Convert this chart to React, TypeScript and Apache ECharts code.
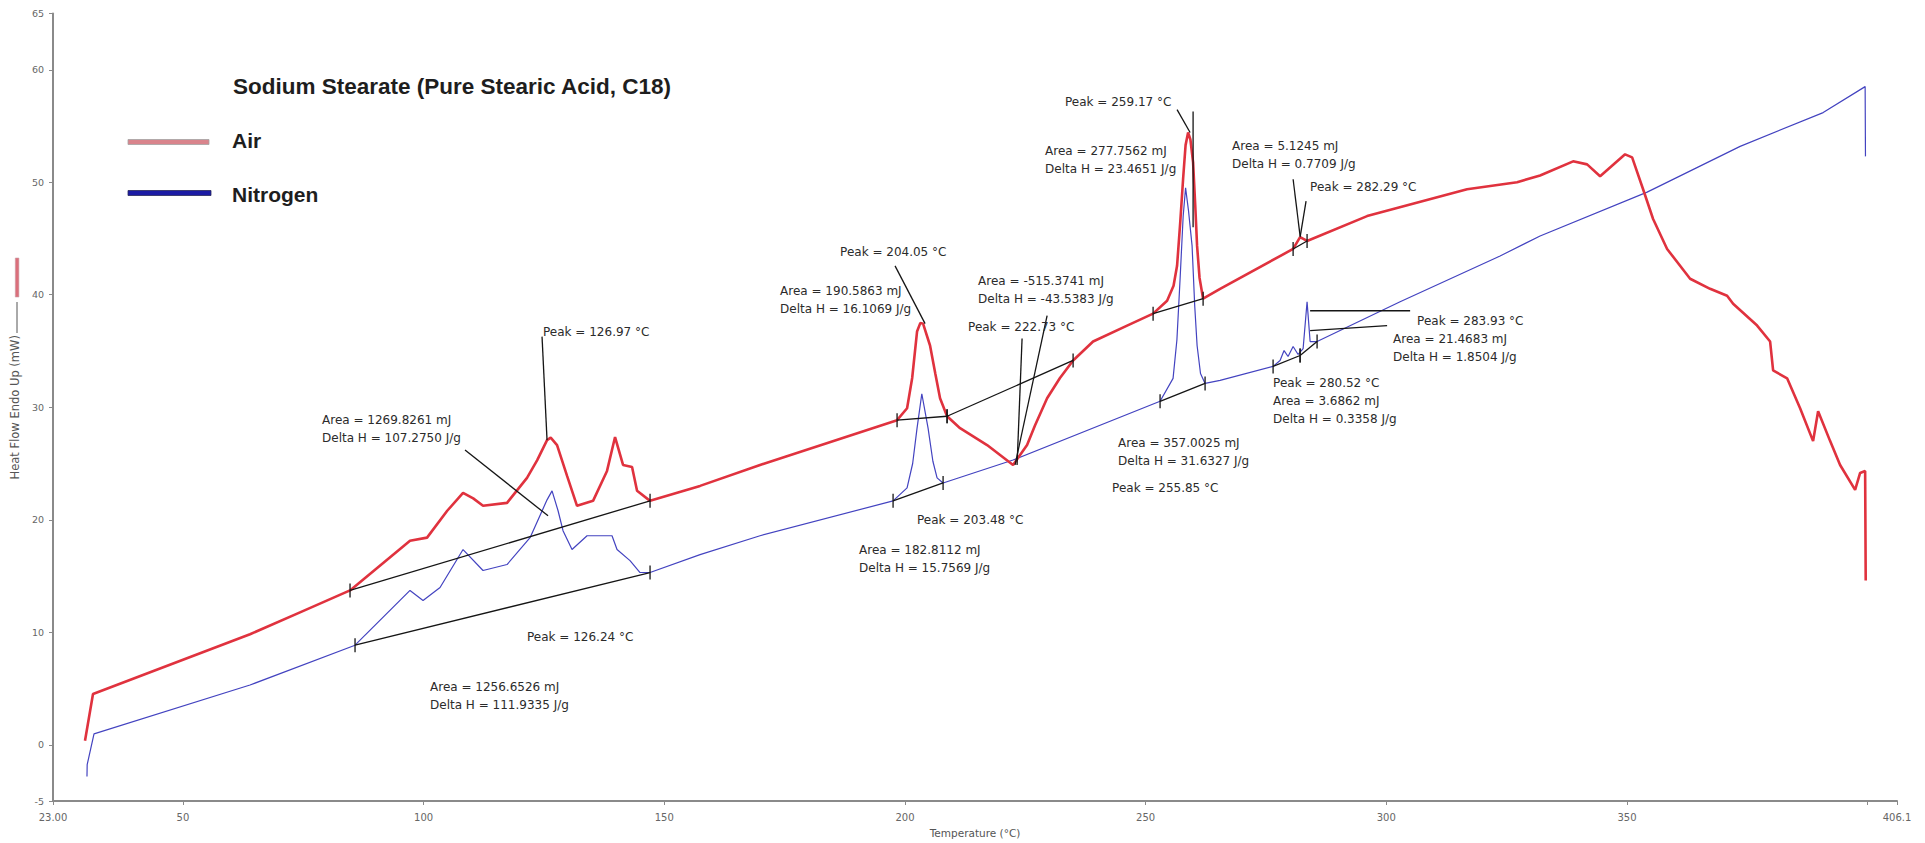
import React, { useEffect, useRef } from "react";
import * as echarts from "echarts";

type Pt = [number, number];

// Heat flow (mW) against temperature (°C) — sample heated in air
const airTrace: Pt[] = [
  [29.65, 0.35], [31.31, 4.51], [63.93, 9.82], [74.32, 11.77], [84.71, 13.72],
  [97.17, 18.14], [100.71, 18.41], [104.9, 20.8], [108.19, 22.39], [110.3, 21.9], [112.34, 21.24],
  [117.33, 21.5], [121.48, 23.72], [123.6, 25.3], [125.64, 27.08], [126.4, 27.3], [127.72, 26.64],
  [129.8, 23.9], [131.87, 21.24], [135.2, 21.68], [138.1, 24.34], [139.77, 27.35], [141.43, 24.87],
  [143.3, 24.69], [144.34, 22.57], [147.04, 21.68], [157.43, 23.01], [169.89, 24.87], [198.36, 28.85],
  [200.44, 29.91], [201.5, 32.6], [202.51, 36.73], [203.2, 37.5], [203.76, 37.43], [205.21, 35.49],
  [206.3, 33.0], [207.29, 30.8], [208.75, 29.2], [211.45, 28.14], [217.06, 26.64], [222.46, 24.87],
  [225.37, 26.64], [227.03, 28.4], [229.53, 30.8], [232.2, 32.6], [234.93, 34.16], [239.08, 35.84],
  [246.15, 37.26], [251.55, 38.32], [254.46, 39.47], [255.8, 40.8], [256.53, 42.57], [257.2, 46.5],
  [257.78, 50.27], [258.3, 53.3], [258.82, 54.42], [259.3, 53.8], [259.86, 51.77], [260.3, 48.0],
  [260.69, 44.34], [261.2, 41.5], [261.94, 39.65], [265.47, 40.53], [280.64, 44.07], [282.09, 45.13],
  [283.54, 44.78], [296.01, 46.99], [316.78, 49.38], [327.17, 50.0], [331.95, 50.6], [338.81, 51.86],
  [341.72, 51.59], [344.42, 50.53], [349.61, 52.48], [351.07, 52.21], [353.35, 49.38], [355.43, 46.73],
  [358.34, 44.07], [363.12, 41.42], [367.27, 40.53], [370.8, 39.91], [372.05, 39.2], [377.04, 37.26],
  [379.74, 35.84], [380.36, 33.27], [383.27, 32.57], [385.97, 29.91], [388.67, 26.99], [389.71, 29.65],
  [392.21, 26.99], [394.28, 24.87], [397.4, 22.65], [398.44, 24.16], [399.48, 24.34], [399.6, 14.6],
];

// Heat flow (mW) against temperature (°C) — sample heated in nitrogen
const nitrogenTrace: Pt[] = [
  [30.06, -2.83], [30.1, -1.77], [31.52, 0.97], [63.93, 5.31], [85.75, 8.85], [97.17, 13.72],
  [99.88, 12.83], [103.41, 13.98], [108.19, 17.35], [112.34, 15.49], [117.33, 16.02], [122.11, 18.41],
  [125.64, 21.77], [126.68, 22.57], [127.93, 20.8], [128.96, 19.03], [130.83, 17.35], [133.95, 18.58],
  [139.14, 18.58], [140.18, 17.35], [142.88, 16.37], [144.96, 15.31], [147.04, 15.31], [157.43, 16.9],
  [169.89, 18.58], [197.53, 21.68], [200.44, 22.83], [201.6, 25.0], [202.51, 28.14], [203.5, 31.2],
  [204.8, 28.14], [205.8, 25.2], [206.67, 23.72], [207.92, 23.27], [222.46, 25.31], [253.0, 30.53],
  [255.7, 32.57], [256.5, 36.0], [257.16, 41.42], [257.8, 47.0], [258.3, 49.5], [258.9, 47.5],
  [259.65, 44.34], [260.2, 39.0], [260.69, 35.49], [261.4, 33.0], [262.35, 32.12], [265.47, 32.39],
  [276.48, 33.63], [277.93, 34.16], [278.76, 35.04], [279.59, 34.51], [280.64, 35.4], [281.68, 34.69],
  [282.72, 35.22], [283.54, 39.38], [284.17, 35.84], [285.62, 35.84], [302.87, 39.38], [323.64, 43.45],
  [331.95, 45.22], [354.19, 49.12], [373.51, 53.19], [390.76, 56.19], [399.48, 58.5], [399.55, 52.3],
];

// Integration baselines [t1, y1, t2, y2], drawn with end markers
const peakBaselines: [number, number, number, number][] = [
  [84.71, 13.72, 147.04, 21.68],
  [85.75, 8.85, 147.04, 15.31],
  [198.36, 28.85, 208.75, 29.2],
  [208.75, 29.2, 234.93, 34.16],
  [251.55, 38.32, 261.94, 39.65],
  [280.64, 44.07, 283.54, 44.78],
  [197.53, 21.68, 207.92, 23.27],
  [253.0, 30.53, 262.35, 32.12],
  [276.48, 33.63, 282.09, 34.6],
  [282.09, 34.6, 285.62, 35.84],
];

// Leader lines from result labels to their peaks [t1, y1, t2, y2]
const leaderLines: [number, number, number, number][] = [
  [124.6, 36.28, 125.64, 27.08],
  [108.6, 26.19, 125.85, 20.35],
  [197.94, 42.57, 204.18, 37.43],
  [229.53, 38.14, 222.87, 24.87],
  [224.33, 36.11, 223.29, 24.87],
  [256.53, 56.46, 259.24, 54.42],
  [259.86, 56.28, 259.86, 46.0],
  [280.64, 50.27, 282.09, 45.22],
  [283.33, 48.32, 282.09, 45.13],
  [284.17, 38.58, 304.95, 38.58],
  [284.17, 36.81, 300.17, 37.26],
];

// Peak result labels, anchored at the first line's left edge
const peakNotes: { t: number; y: number; lines: string[] }[] = [
  { t: 124.81, y: 36.73, lines: ["Peak = 126.97 °C"] },
  { t: 78.89, y: 28.85, lines: ["Area = 1269.8261 mJ", "Delta H = 107.2750 J/g"] },
  { t: 121.48, y: 9.56, lines: ["Peak = 126.24 °C"] },
  { t: 101.33, y: 5.13, lines: ["Area = 1256.6526 mJ", "Delta H = 111.9335 J/g"] },
  { t: 186.52, y: 43.81, lines: ["Peak = 204.05 °C"] },
  { t: 174.05, y: 40.35, lines: ["Area = 190.5863 mJ", "Delta H = 16.1069 J/g"] },
  { t: 215.19, y: 41.24, lines: ["Area = -515.3741 mJ", "Delta H = -43.5383 J/g"] },
  { t: 213.11, y: 37.17, lines: ["Peak = 222.73 °C"] },
  { t: 233.26, y: 57.17, lines: ["Peak = 259.17 °C"] },
  { t: 229.11, y: 52.74, lines: ["Area = 277.7562 mJ", "Delta H = 23.4651 J/g"] },
  { t: 202.51, y: 20.0, lines: ["Peak = 203.48 °C"] },
  { t: 190.46, y: 17.35, lines: ["Area = 182.8112 mJ", "Delta H = 15.7569 J/g"] },
  { t: 244.27, y: 26.81, lines: ["Area = 357.0025 mJ", "Delta H = 31.6327 J/g"] },
  { t: 243.03, y: 22.83, lines: ["Peak = 255.85 °C"] },
  { t: 267.96, y: 53.19, lines: ["Area = 5.1245 mJ", "Delta H = 0.7709 J/g"] },
  { t: 284.17, y: 49.56, lines: ["Peak = 282.29 °C"] },
  { t: 306.4, y: 37.7, lines: ["Peak = 283.93 °C"] },
  { t: 301.41, y: 36.11, lines: ["Area = 21.4683 mJ", "Delta H = 1.8504 J/g"] },
  { t: 276.48, y: 32.12, lines: ["Peak = 280.52 °C", "Area = 3.6862 mJ", "Delta H = 0.3358 J/g"] },
];

const xTickValues = [23, 50, 100, 150, 200, 250, 300, 350, 400, 406.1];
const xLabelValues = [23, 50, 100, 150, 200, 250, 300, 350, 406.1];
const yTickValues = [-5, 0, 10, 20, 30, 40, 50, 60, 65];

const X_MIN = 23;
const X_MAX = 406.1;
const Y_MIN = -5;
const Y_MAX = 65;

const SMALL_FONT = '"DejaVu Sans", sans-serif';
const BOLD_FONT = '"Liberation Sans", Arial, sans-serif';
const INK = "#151515";

export default function App() {
  const ref = useRef<HTMLDivElement>(null);

  useEffect(() => {
    document.body.style.margin = "0";
    document.body.style.overflow = "hidden";
    if (!ref.current) return;
    const chart = echarts.init(ref.current, undefined, { renderer: "svg" });

    const segmentItem = (withMarkers: boolean) => (params: any, api: any) => {
      const p1 = api.coord([api.value(0), api.value(1)]);
      const p2 = api.coord([api.value(2), api.value(3)]);
      const style = { stroke: INK, lineWidth: 1.3 };
      const children: any[] = [
        { type: "line", shape: { x1: p1[0], y1: p1[1], x2: p2[0], y2: p2[1] }, style },
      ];
      if (withMarkers) {
        children.push(
          { type: "line", shape: { x1: p1[0], y1: p1[1] - 7, x2: p1[0], y2: p1[1] + 7 }, style },
          { type: "line", shape: { x1: p2[0], y1: p2[1] - 7, x2: p2[0], y2: p2[1] + 7 }, style }
        );
      }
      return { type: "group", children };
    };

    chart.setOption({
      animation: false,
      backgroundColor: "#ffffff",
      title: {
        text: "Sodium Stearate (Pure Stearic Acid, C18)",
        left: 233,
        top: 75,
        padding: 0,
        textStyle: { fontFamily: BOLD_FONT, fontSize: 22.5, fontWeight: "bold", color: "#1e1e1e" },
      },
      grid: { left: 53, right: 28, top: 13.5, bottom: 40, containLabel: false },
      xAxis: {
        type: "value",
        min: X_MIN,
        max: X_MAX,
        name: "Temperature (°C)",
        nameLocation: "middle",
        nameGap: 26,
        nameTextStyle: { fontFamily: SMALL_FONT, fontSize: 10.5, color: "#555" },
        axisLine: { show: true, onZero: false, lineStyle: { color: "#8a8a8a", width: 2 } },
        axisTick: { show: true, length: 4, customValues: xTickValues, lineStyle: { color: "#8a8a8a" } },
        axisLabel: {
          customValues: xLabelValues,
          margin: 11,
          fontFamily: SMALL_FONT,
          fontSize: 10,
          color: "#666",
          formatter: (v: number) => (v === X_MIN ? "23.00" : v === X_MAX ? "406.1" : String(v)),
        },
        splitLine: { show: false },
      },
      yAxis: {
        type: "value",
        min: Y_MIN,
        max: Y_MAX,
        name: "Heat Flow Endo Up (mW)",
        nameLocation: "middle",
        nameRotate: 90,
        nameGap: 30,
        nameTextStyle: { fontFamily: SMALL_FONT, fontSize: 11.5, color: "#555" },
        axisLine: { show: true, onZero: false, lineStyle: { color: "#8a8a8a", width: 2 } },
        axisTick: { show: true, length: 4, customValues: yTickValues, lineStyle: { color: "#8a8a8a" } },
        axisLabel: {
          customValues: yTickValues,
          margin: 9,
          fontFamily: SMALL_FONT,
          fontSize: 9.5,
          color: "#666",
        },
        splitLine: { show: false },
      },
      graphic: [
        // Trace key beside the y-axis title
        { type: "line", shape: { x1: 17, y1: 302, x2: 17, y2: 333 }, style: { stroke: "#555", lineWidth: 1 } },
        { type: "rect", shape: { x: 15.3, y: 258, width: 3.6, height: 39 }, style: { fill: "#db6f7b", stroke: "#c9a0a8", lineWidth: 0.6 } },
        // Legend
        { type: "rect", shape: { x: 128, y: 139.5, width: 81, height: 5 }, style: { fill: "#d9848c", stroke: "#a3a3a3", lineWidth: 0.8 } },
        { type: "text", x: 232, y: 140, style: { text: "Air", font: `bold 21px ${BOLD_FONT}`, fill: "#1e1e1e", align: "left", verticalAlign: "middle" } },
        { type: "rect", shape: { x: 128, y: 190.5, width: 83, height: 5 }, style: { fill: "#1b1ba4", stroke: "#2a2a5a", lineWidth: 0.8 } },
        { type: "text", x: 232, y: 194, style: { text: "Nitrogen", font: `bold 21px ${BOLD_FONT}`, fill: "#1e1e1e", align: "left", verticalAlign: "middle" } },
      ],
      series: [
        {
          name: "Nitrogen",
          type: "line",
          data: nitrogenTrace,
          showSymbol: false,
          symbol: "none",
          lineStyle: { color: "#4343c0", width: 1.2 },
          silent: true,
          z: 2,
        },
        {
          name: "Air",
          type: "line",
          data: airTrace,
          showSymbol: false,
          symbol: "none",
          lineStyle: { color: "#e0323e", width: 2.6 },
          silent: true,
          z: 3,
        },
        {
          name: "baselines",
          type: "custom",
          renderItem: segmentItem(true),
          data: peakBaselines,
          encode: { x: [0, 2], y: [1, 3] },
          silent: true,
          z: 4,
        },
        {
          name: "leaders",
          type: "custom",
          renderItem: segmentItem(false),
          data: leaderLines,
          encode: { x: [0, 2], y: [1, 3] },
          silent: true,
          z: 4,
        },
        {
          name: "notes",
          type: "custom",
          renderItem: (params: any, api: any) => {
            const note = peakNotes[params.dataIndex];
            const p = api.coord([api.value(0), api.value(1)]);
            return {
              type: "text",
              x: p[0],
              y: p[1] - 9,
              style: {
                text: note.lines.join("\n"),
                fill: "#2b2b2b",
                font: `12px ${SMALL_FONT}`,
                lineHeight: 18,
                align: "left",
                verticalAlign: "top",
              },
            };
          },
          data: peakNotes.map((n) => [n.t, n.y]),
          encode: { x: 0, y: 1 },
          silent: true,
          z: 5,
        },
      ],
    });

    return () => chart.dispose();
  }, []);

  return <div ref={ref} style={{ position: "fixed", left: 0, top: 0, width: 1925, height: 843 }} />;
}
